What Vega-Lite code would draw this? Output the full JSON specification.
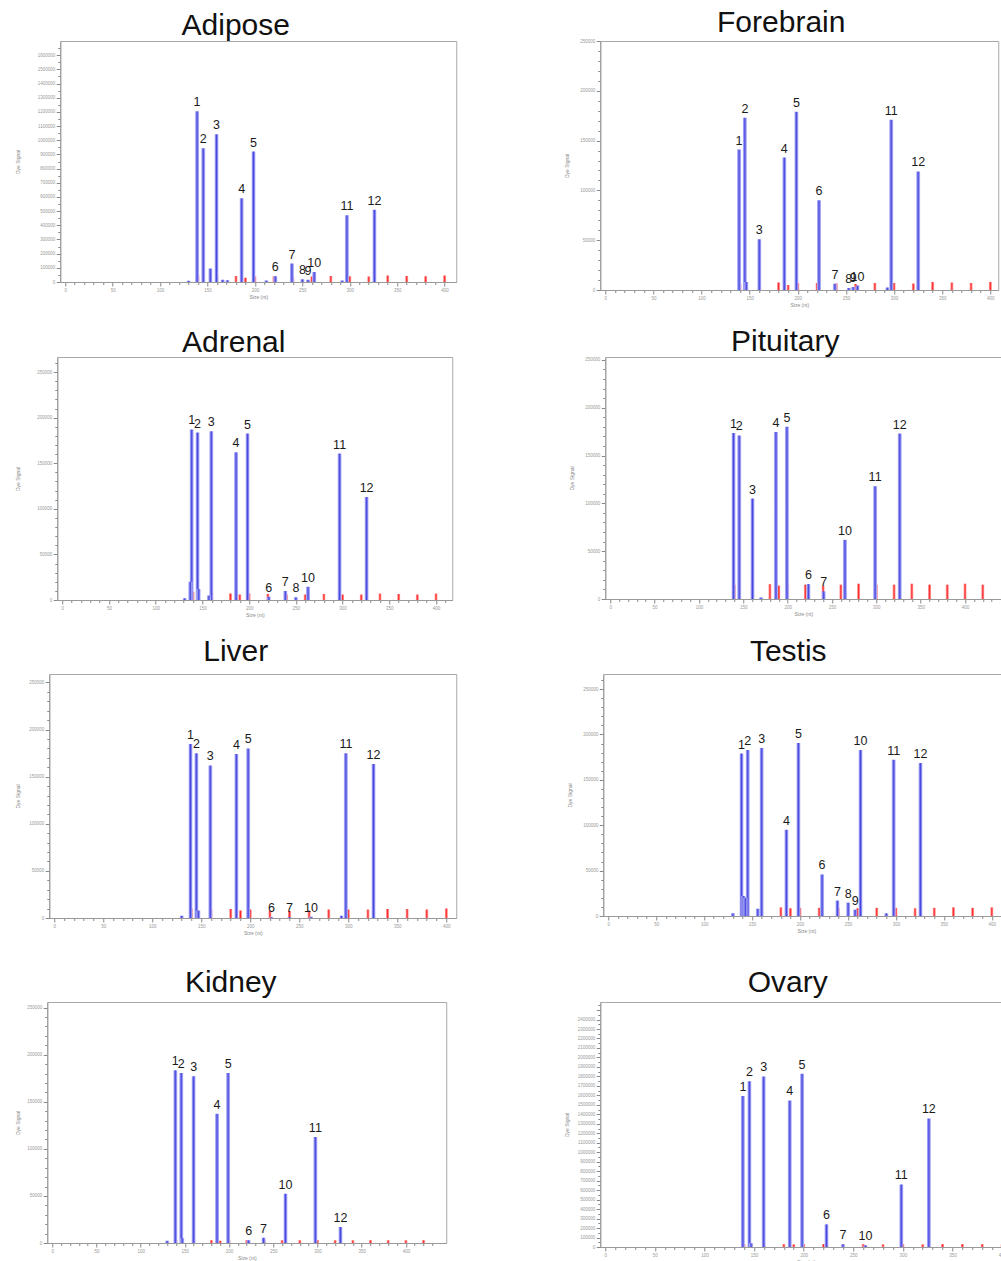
{
  "$schema": "https://vega.github.io/schema/vega-lite/v6.json",
  "padding": {"left": 14, "top": 7, "right": 0, "bottom": 0},
  "background": "white",
  "columns": 1,
  "center": true,
  "spacing": 18,
  "config": {
    "font": "Liberation Sans",
    "view": {"stroke": "#a8a8a8", "strokeWidth": 1},
    "title": {"fontSize": 30, "fontWeight": "normal", "font": "Liberation Sans", "color": "#111111", "anchor": "middle", "frame": "bounds"},
    "axis": {"labelFontSize": 4.5, "labelColor": "#999999", "titleFontSize": 5, "titleFontWeight": "normal", "titleColor": "#888888", "domainColor": "#999999", "tickColor": "#888888", "grid": false, "labelOverlap": false, "labelFlush": false, "titlePadding": 3, "labelPadding": 1.5},
    "axisX": {"titlePadding": 1}
  },
  "datasets": {
    "peaks": [
      {"t": "Adipose", "x": 139, "h": 1205000, "lbl": "1"},
      {"t": "Adipose", "x": 145.5, "h": 944000, "lbl": "2"},
      {"t": "Adipose", "x": 159.5, "h": 1043000, "lbl": "3"},
      {"t": "Adipose", "x": 186, "h": 590000, "lbl": "4"},
      {"t": "Adipose", "x": 198.5, "h": 920000, "lbl": "5"},
      {"t": "Adipose", "x": 221.5, "h": 40000, "lbl": "6"},
      {"t": "Adipose", "x": 239, "h": 130000, "lbl": "7"},
      {"t": "Adipose", "x": 250, "h": 20000, "lbl": "8"},
      {"t": "Adipose", "x": 256, "h": 15000, "lbl": "9"},
      {"t": "Adipose", "x": 262.5, "h": 70000, "lbl": "10"},
      {"t": "Adipose", "x": 297, "h": 470000, "lbl": "11"},
      {"t": "Adipose", "x": 326, "h": 510000, "lbl": "12"},
      {"t": "Adipose", "x": 130, "h": 8000, "lbl": ""},
      {"t": "Adipose", "x": 153, "h": 95000, "lbl": ""},
      {"t": "Adipose", "x": 166, "h": 15000, "lbl": ""},
      {"t": "Adipose", "x": 171, "h": 12000, "lbl": ""},
      {"t": "Adipose", "x": 212, "h": 10000, "lbl": ""},
      {"t": "Adipose", "x": 292, "h": 10000, "lbl": ""},
      {"t": "Forebrain", "x": 139, "h": 141000, "lbl": "1"},
      {"t": "Forebrain", "x": 145, "h": 173000, "lbl": "2"},
      {"t": "Forebrain", "x": 160, "h": 51000, "lbl": "3"},
      {"t": "Forebrain", "x": 186, "h": 133000, "lbl": "4"},
      {"t": "Forebrain", "x": 198.5, "h": 179000, "lbl": "5"},
      {"t": "Forebrain", "x": 222, "h": 90000, "lbl": "6"},
      {"t": "Forebrain", "x": 238.5, "h": 6300, "lbl": "7"},
      {"t": "Forebrain", "x": 253, "h": 2000, "lbl": "8"},
      {"t": "Forebrain", "x": 257.5, "h": 3000, "lbl": "9"},
      {"t": "Forebrain", "x": 262, "h": 4500, "lbl": "10"},
      {"t": "Forebrain", "x": 297, "h": 171000, "lbl": "11"},
      {"t": "Forebrain", "x": 325, "h": 119000, "lbl": "12"},
      {"t": "Forebrain", "x": 146.5, "h": 8000, "lbl": ""},
      {"t": "Forebrain", "x": 293, "h": 2500, "lbl": ""},
      {"t": "Adrenal", "x": 138.5, "h": 187000, "lbl": "1"},
      {"t": "Adrenal", "x": 144.8, "h": 183600, "lbl": "2"},
      {"t": "Adrenal", "x": 159.5, "h": 185000, "lbl": "3"},
      {"t": "Adrenal", "x": 186, "h": 162000, "lbl": "4"},
      {"t": "Adrenal", "x": 198.3, "h": 182500, "lbl": "5"},
      {"t": "Adrenal", "x": 221, "h": 3600, "lbl": "6"},
      {"t": "Adrenal", "x": 238.7, "h": 10000, "lbl": "7"},
      {"t": "Adrenal", "x": 250, "h": 3000, "lbl": "8"},
      {"t": "Adrenal", "x": 263, "h": 14600, "lbl": "10"},
      {"t": "Adrenal", "x": 296.8, "h": 160600, "lbl": "11"},
      {"t": "Adrenal", "x": 325.7, "h": 113000, "lbl": "12"},
      {"t": "Adrenal", "x": 131, "h": 2000, "lbl": ""},
      {"t": "Adrenal", "x": 137, "h": 20000, "lbl": ""},
      {"t": "Adrenal", "x": 146, "h": 12000, "lbl": ""},
      {"t": "Adrenal", "x": 157, "h": 5000, "lbl": ""},
      {"t": "Pituitary", "x": 139, "h": 173600, "lbl": "1"},
      {"t": "Pituitary", "x": 145.4, "h": 171000, "lbl": "2"},
      {"t": "Pituitary", "x": 160.4, "h": 105000, "lbl": "3"},
      {"t": "Pituitary", "x": 186.8, "h": 174600, "lbl": "4"},
      {"t": "Pituitary", "x": 199.2, "h": 180000, "lbl": "5"},
      {"t": "Pituitary", "x": 223.4, "h": 15600, "lbl": "6"},
      {"t": "Pituitary", "x": 240.6, "h": 8000, "lbl": "7"},
      {"t": "Pituitary", "x": 264.6, "h": 61800, "lbl": "10"},
      {"t": "Pituitary", "x": 298.6, "h": 118000, "lbl": "11"},
      {"t": "Pituitary", "x": 326.4, "h": 173000, "lbl": "12"},
      {"t": "Pituitary", "x": 170, "h": 1500, "lbl": ""},
      {"t": "Liver", "x": 139, "h": 184700, "lbl": "1"},
      {"t": "Liver", "x": 145, "h": 175000, "lbl": "2"},
      {"t": "Liver", "x": 159.2, "h": 162000, "lbl": "3"},
      {"t": "Liver", "x": 185.8, "h": 174000, "lbl": "4"},
      {"t": "Liver", "x": 197.8, "h": 180000, "lbl": "5"},
      {"t": "Liver", "x": 221.7, "h": 800, "lbl": "6"},
      {"t": "Liver", "x": 240, "h": 800, "lbl": "7"},
      {"t": "Liver", "x": 262, "h": 1200, "lbl": "10"},
      {"t": "Liver", "x": 297.5, "h": 175000, "lbl": "11"},
      {"t": "Liver", "x": 325.7, "h": 163500, "lbl": "12"},
      {"t": "Liver", "x": 130, "h": 2500, "lbl": ""},
      {"t": "Liver", "x": 147, "h": 8000, "lbl": ""},
      {"t": "Liver", "x": 293, "h": 2500, "lbl": ""},
      {"t": "Testis", "x": 139, "h": 179000, "lbl": "1"},
      {"t": "Testis", "x": 145.5, "h": 183000, "lbl": "2"},
      {"t": "Testis", "x": 160, "h": 185000, "lbl": "3"},
      {"t": "Testis", "x": 185.8, "h": 95000, "lbl": "4"},
      {"t": "Testis", "x": 198.3, "h": 190600, "lbl": "5"},
      {"t": "Testis", "x": 223, "h": 45800, "lbl": "6"},
      {"t": "Testis", "x": 239, "h": 17000, "lbl": "7"},
      {"t": "Testis", "x": 250.2, "h": 14700, "lbl": "8"},
      {"t": "Testis", "x": 257.5, "h": 7000, "lbl": "9"},
      {"t": "Testis", "x": 263.1, "h": 183000, "lbl": "10"},
      {"t": "Testis", "x": 297.7, "h": 172000, "lbl": "11"},
      {"t": "Testis", "x": 325.6, "h": 168600, "lbl": "12"},
      {"t": "Testis", "x": 130, "h": 3000, "lbl": ""},
      {"t": "Testis", "x": 141, "h": 22000, "lbl": ""},
      {"t": "Testis", "x": 143, "h": 20000, "lbl": ""},
      {"t": "Testis", "x": 156, "h": 8000, "lbl": ""},
      {"t": "Testis", "x": 290, "h": 3000, "lbl": ""},
      {"t": "Kidney", "x": 139.2, "h": 183500, "lbl": "1"},
      {"t": "Kidney", "x": 145.9, "h": 180600, "lbl": "2"},
      {"t": "Kidney", "x": 159.9, "h": 177000, "lbl": "3"},
      {"t": "Kidney", "x": 186.4, "h": 137400, "lbl": "4"},
      {"t": "Kidney", "x": 198.9, "h": 180600, "lbl": "5"},
      {"t": "Kidney", "x": 222.1, "h": 2800, "lbl": "6"},
      {"t": "Kidney", "x": 239, "h": 5700, "lbl": "7"},
      {"t": "Kidney", "x": 263.8, "h": 52400, "lbl": "10"},
      {"t": "Kidney", "x": 297.6, "h": 112600, "lbl": "11"},
      {"t": "Kidney", "x": 326, "h": 17000, "lbl": "12"},
      {"t": "Kidney", "x": 130, "h": 2500, "lbl": ""},
      {"t": "Kidney", "x": 147, "h": 5000, "lbl": ""},
      {"t": "Ovary", "x": 138.7, "h": 1592000, "lbl": "1"},
      {"t": "Ovary", "x": 145.3, "h": 1750000, "lbl": "2"},
      {"t": "Ovary", "x": 159.7, "h": 1800000, "lbl": "3"},
      {"t": "Ovary", "x": 186, "h": 1546000, "lbl": "4"},
      {"t": "Ovary", "x": 198.4, "h": 1827000, "lbl": "5"},
      {"t": "Ovary", "x": 223, "h": 239000, "lbl": "6"},
      {"t": "Ovary", "x": 239.6, "h": 28000, "lbl": "7"},
      {"t": "Ovary", "x": 262.3, "h": 18000, "lbl": "10"},
      {"t": "Ovary", "x": 298.4, "h": 660000, "lbl": "11"},
      {"t": "Ovary", "x": 326.2, "h": 1356000, "lbl": "12"},
      {"t": "Ovary", "x": 147, "h": 40000, "lbl": ""}
    ],
    "ladder": [
      {"t": "Adipose", "x": 140, "h": 45000}, {"t": "Adipose", "x": 160, "h": 40000}, {"t": "Adipose", "x": 180, "h": 42000}, {"t": "Adipose", "x": 190, "h": 30000}, {"t": "Adipose", "x": 200, "h": 38000}, {"t": "Adipose", "x": 220, "h": 40000}, {"t": "Adipose", "x": 240, "h": 35000}, {"t": "Adipose", "x": 260, "h": 38000}, {"t": "Adipose", "x": 280, "h": 42000}, {"t": "Adipose", "x": 300, "h": 40000}, {"t": "Adipose", "x": 320, "h": 38000}, {"t": "Adipose", "x": 340, "h": 45000}, {"t": "Adipose", "x": 360, "h": 42000}, {"t": "Adipose", "x": 380, "h": 40000}, {"t": "Adipose", "x": 400, "h": 45000},
      {"t": "Forebrain", "x": 140, "h": 6000}, {"t": "Forebrain", "x": 160, "h": 7000}, {"t": "Forebrain", "x": 180, "h": 7500}, {"t": "Forebrain", "x": 190, "h": 5000}, {"t": "Forebrain", "x": 200, "h": 7000}, {"t": "Forebrain", "x": 220, "h": 7000}, {"t": "Forebrain", "x": 240, "h": 6500}, {"t": "Forebrain", "x": 260, "h": 6000}, {"t": "Forebrain", "x": 280, "h": 7000}, {"t": "Forebrain", "x": 300, "h": 7000}, {"t": "Forebrain", "x": 320, "h": 6500}, {"t": "Forebrain", "x": 340, "h": 8000}, {"t": "Forebrain", "x": 360, "h": 7500}, {"t": "Forebrain", "x": 380, "h": 7000}, {"t": "Forebrain", "x": 400, "h": 8000},
      {"t": "Adrenal", "x": 140, "h": 9000}, {"t": "Adrenal", "x": 160, "h": 8000}, {"t": "Adrenal", "x": 180, "h": 7000}, {"t": "Adrenal", "x": 190, "h": 6000}, {"t": "Adrenal", "x": 200, "h": 7000}, {"t": "Adrenal", "x": 220, "h": 6500}, {"t": "Adrenal", "x": 240, "h": 6000}, {"t": "Adrenal", "x": 260, "h": 6000}, {"t": "Adrenal", "x": 280, "h": 6500}, {"t": "Adrenal", "x": 300, "h": 6000}, {"t": "Adrenal", "x": 320, "h": 6000}, {"t": "Adrenal", "x": 340, "h": 7000}, {"t": "Adrenal", "x": 360, "h": 6500}, {"t": "Adrenal", "x": 380, "h": 6000}, {"t": "Adrenal", "x": 400, "h": 7000},
      {"t": "Pituitary", "x": 140, "h": 15000}, {"t": "Pituitary", "x": 160, "h": 16000}, {"t": "Pituitary", "x": 180, "h": 15500}, {"t": "Pituitary", "x": 190, "h": 14000}, {"t": "Pituitary", "x": 200, "h": 16000}, {"t": "Pituitary", "x": 220, "h": 15000}, {"t": "Pituitary", "x": 240, "h": 14000}, {"t": "Pituitary", "x": 260, "h": 15000}, {"t": "Pituitary", "x": 280, "h": 16000}, {"t": "Pituitary", "x": 300, "h": 15000}, {"t": "Pituitary", "x": 320, "h": 15000}, {"t": "Pituitary", "x": 340, "h": 16000}, {"t": "Pituitary", "x": 360, "h": 15000}, {"t": "Pituitary", "x": 380, "h": 15000}, {"t": "Pituitary", "x": 400, "h": 16000}, {"t": "Pituitary", "x": 420, "h": 15000},
      {"t": "Liver", "x": 140, "h": 10000}, {"t": "Liver", "x": 160, "h": 9000}, {"t": "Liver", "x": 180, "h": 9500}, {"t": "Liver", "x": 190, "h": 8000}, {"t": "Liver", "x": 200, "h": 9000}, {"t": "Liver", "x": 220, "h": 8000}, {"t": "Liver", "x": 240, "h": 7500}, {"t": "Liver", "x": 260, "h": 8000}, {"t": "Liver", "x": 280, "h": 9000}, {"t": "Liver", "x": 300, "h": 9000}, {"t": "Liver", "x": 320, "h": 9000}, {"t": "Liver", "x": 340, "h": 9500}, {"t": "Liver", "x": 360, "h": 9500}, {"t": "Liver", "x": 380, "h": 9000}, {"t": "Liver", "x": 400, "h": 10000},
      {"t": "Testis", "x": 140, "h": 9000}, {"t": "Testis", "x": 160, "h": 9500}, {"t": "Testis", "x": 180, "h": 9500}, {"t": "Testis", "x": 190, "h": 8500}, {"t": "Testis", "x": 200, "h": 9000}, {"t": "Testis", "x": 220, "h": 9000}, {"t": "Testis", "x": 240, "h": 9000}, {"t": "Testis", "x": 260, "h": 8500}, {"t": "Testis", "x": 280, "h": 9000}, {"t": "Testis", "x": 300, "h": 9000}, {"t": "Testis", "x": 320, "h": 8500}, {"t": "Testis", "x": 340, "h": 9000}, {"t": "Testis", "x": 360, "h": 9500}, {"t": "Testis", "x": 380, "h": 9000}, {"t": "Testis", "x": 400, "h": 9500},
      {"t": "Kidney", "x": 140, "h": 3500}, {"t": "Kidney", "x": 160, "h": 3000}, {"t": "Kidney", "x": 180, "h": 3000}, {"t": "Kidney", "x": 190, "h": 2500}, {"t": "Kidney", "x": 200, "h": 3500}, {"t": "Kidney", "x": 220, "h": 3000}, {"t": "Kidney", "x": 240, "h": 3000}, {"t": "Kidney", "x": 260, "h": 3000}, {"t": "Kidney", "x": 280, "h": 3000}, {"t": "Kidney", "x": 300, "h": 3000}, {"t": "Kidney", "x": 320, "h": 3000}, {"t": "Kidney", "x": 340, "h": 3000}, {"t": "Kidney", "x": 360, "h": 3000}, {"t": "Kidney", "x": 380, "h": 3000}, {"t": "Kidney", "x": 400, "h": 3000}, {"t": "Kidney", "x": 420, "h": 3000},
      {"t": "Ovary", "x": 140, "h": 30000}, {"t": "Ovary", "x": 160, "h": 32000}, {"t": "Ovary", "x": 180, "h": 30000}, {"t": "Ovary", "x": 190, "h": 28000}, {"t": "Ovary", "x": 200, "h": 30000}, {"t": "Ovary", "x": 220, "h": 30000}, {"t": "Ovary", "x": 240, "h": 28000}, {"t": "Ovary", "x": 260, "h": 30000}, {"t": "Ovary", "x": 280, "h": 28000}, {"t": "Ovary", "x": 300, "h": 30000}, {"t": "Ovary", "x": 320, "h": 28000}, {"t": "Ovary", "x": 340, "h": 30000}, {"t": "Ovary", "x": 360, "h": 30000}, {"t": "Ovary", "x": 380, "h": 30000}, {"t": "Ovary", "x": 400, "h": 30000}
    ]
  },
  "concat": [
    {
      "spacing": 106,
      "hconcat": [
        {
          "width": 396, "height": 241,
          "title": {"text": "Adipose", "offset": 0},
          "encoding": {
            "x": {"field": "x", "type": "quantitative", "scale": {"domain": [0, 407], "nice": false, "zero": false},
              "axis": {"title": "Size (nt)", "values": [0,10,20,30,40,50,60,70,80,90,100,110,120,130,140,150,160,170,180,190,200,210,220,230,240,250,260,270,280,290,300,310,320,330,340,350,360,370,380,390,400], "labelExpr": "datum.value % 50 === 0 ? datum.label : ''", "tickSize": {"condition": {"test": "datum.value % 50 === 0", "value": 4}, "value": 2.5}, "minExtent": 11, "maxExtent": 11}},
            "y": {"field": "h", "type": "quantitative", "scale": {"domain": [0, 1700000], "nice": false},
              "axis": {"title": "Dye Signal", "format": "d", "values": [0,50000,100000,150000,200000,250000,300000,350000,400000,450000,500000,550000,600000,650000,700000,750000,800000,850000,900000,950000,1000000,1050000,1100000,1150000,1200000,1250000,1300000,1350000,1400000,1450000,1500000,1550000,1600000,1650000], "labelExpr": "datum.value % 100000 === 0 ? datum.label : ''", "tickSize": {"condition": {"test": "datum.value % 100000 === 0", "value": 4}, "value": 2.5}, "minExtent": 37, "maxExtent": 37}}
          },
          "layer": [
            {"data": {"name": "ladder"}, "transform": [{"filter": "datum.t === 'Adipose'"}], "mark": {"type": "bar", "orient": "vertical", "width": 3, "clip": true, "fill": {"gradient": "linear", "x1": 0, "y1": 0, "x2": 1, "y2": 0, "stops": [{"offset": 0, "color": "#ffb4b4"}, {"offset": 0.5, "color": "#ff2a2a"}, {"offset": 1, "color": "#ffb4b4"}]}}},
            {"data": {"name": "peaks"}, "transform": [{"filter": "datum.t === 'Adipose'"}], "mark": {"type": "bar", "orient": "vertical", "width": 4, "clip": true, "fill": {"gradient": "linear", "x1": 0, "y1": 0, "x2": 1, "y2": 0, "stops": [{"offset": 0, "color": "#c8c8fb"}, {"offset": 0.5, "color": "#4646e0"}, {"offset": 1, "color": "#c8c8fb"}]}}},
            {"data": {"name": "peaks"}, "transform": [{"filter": "datum.t === 'Adipose' && datum.lbl !== ''"}], "mark": {"type": "text", "baseline": "bottom", "dy": -2, "fontSize": 12.5, "font": "Liberation Sans", "color": "#1a1a1a"}, "encoding": {"text": {"field": "lbl"}}}
          ]
        },
        {
          "width": 398, "height": 249,
          "title": {"text": "Forebrain", "offset": 0},
          "encoding": {
            "x": {"field": "x", "type": "quantitative", "scale": {"domain": [0, 403], "nice": false, "zero": false},
              "axis": {"title": "Size (nt)", "values": [0,10,20,30,40,50,60,70,80,90,100,110,120,130,140,150,160,170,180,190,200,210,220,230,240,250,260,270,280,290,300,310,320,330,340,350,360,370,380,390,400], "labelExpr": "datum.value % 50 === 0 ? datum.label : ''", "tickSize": {"condition": {"test": "datum.value % 50 === 0", "value": 4}, "value": 2.5}, "minExtent": 11, "maxExtent": 11}},
            "y": {"field": "h", "type": "quantitative", "scale": {"domain": [0, 250000], "nice": false},
              "axis": {"title": "Dye Signal", "format": "d", "values": [0,10000,20000,30000,40000,50000,60000,70000,80000,90000,100000,110000,120000,130000,140000,150000,160000,170000,180000,190000,200000,210000,220000,230000,240000,250000], "labelExpr": "datum.value % 50000 === 0 ? datum.label : ''", "tickSize": {"condition": {"test": "datum.value % 50000 === 0", "value": 4}, "value": 2.5}, "minExtent": 28, "maxExtent": 28}}
          },
          "layer": [
            {"data": {"name": "ladder"}, "transform": [{"filter": "datum.t === 'Forebrain'"}], "mark": {"type": "bar", "orient": "vertical", "width": 3, "clip": true, "fill": {"gradient": "linear", "x1": 0, "y1": 0, "x2": 1, "y2": 0, "stops": [{"offset": 0, "color": "#ffb4b4"}, {"offset": 0.5, "color": "#ff2a2a"}, {"offset": 1, "color": "#ffb4b4"}]}}},
            {"data": {"name": "peaks"}, "transform": [{"filter": "datum.t === 'Forebrain'"}], "mark": {"type": "bar", "orient": "vertical", "width": 4, "clip": true, "fill": {"gradient": "linear", "x1": 0, "y1": 0, "x2": 1, "y2": 0, "stops": [{"offset": 0, "color": "#c8c8fb"}, {"offset": 0.5, "color": "#4646e0"}, {"offset": 1, "color": "#c8c8fb"}]}}},
            {"data": {"name": "peaks"}, "transform": [{"filter": "datum.t === 'Forebrain' && datum.lbl !== ''"}], "mark": {"type": "text", "baseline": "bottom", "dy": -2, "fontSize": 12.5, "font": "Liberation Sans", "color": "#1a1a1a"}, "encoding": {"text": {"field": "lbl"}}}
          ]
        }
      ]
    },
    {
      "spacing": 115,
      "hconcat": [
        {
          "width": 395, "height": 243,
          "title": {"text": "Adrenal", "offset": -0.5},
          "encoding": {
            "x": {"field": "x", "type": "quantitative", "scale": {"domain": [0, 412], "nice": false, "zero": false},
              "axis": {"title": "Size (nt)", "values": [0,10,20,30,40,50,60,70,80,90,100,110,120,130,140,150,160,170,180,190,200,210,220,230,240,250,260,270,280,290,300,310,320,330,340,350,360,370,380,390,400,410], "labelExpr": "datum.value % 50 === 0 ? datum.label : ''", "tickSize": {"condition": {"test": "datum.value % 50 === 0", "value": 4}, "value": 2.5}, "minExtent": 11, "maxExtent": 11}},
            "y": {"field": "h", "type": "quantitative", "scale": {"domain": [0, 266500], "nice": false},
              "axis": {"title": "Dye Signal", "format": "d", "values": [0,10000,20000,30000,40000,50000,60000,70000,80000,90000,100000,110000,120000,130000,140000,150000,160000,170000,180000,190000,200000,210000,220000,230000,240000,250000,260000], "labelExpr": "datum.value % 50000 === 0 ? datum.label : ''", "tickSize": {"condition": {"test": "datum.value % 50000 === 0", "value": 4}, "value": 2.5}, "minExtent": 34, "maxExtent": 34}}
          },
          "layer": [
            {"data": {"name": "ladder"}, "transform": [{"filter": "datum.t === 'Adrenal'"}], "mark": {"type": "bar", "orient": "vertical", "width": 3, "clip": true, "fill": {"gradient": "linear", "x1": 0, "y1": 0, "x2": 1, "y2": 0, "stops": [{"offset": 0, "color": "#ffb4b4"}, {"offset": 0.5, "color": "#ff2a2a"}, {"offset": 1, "color": "#ffb4b4"}]}}},
            {"data": {"name": "peaks"}, "transform": [{"filter": "datum.t === 'Adrenal'"}], "mark": {"type": "bar", "orient": "vertical", "width": 4, "clip": true, "fill": {"gradient": "linear", "x1": 0, "y1": 0, "x2": 1, "y2": 0, "stops": [{"offset": 0, "color": "#c8c8fb"}, {"offset": 0.5, "color": "#4646e0"}, {"offset": 1, "color": "#c8c8fb"}]}}},
            {"data": {"name": "peaks"}, "transform": [{"filter": "datum.t === 'Adrenal' && datum.lbl !== ''"}], "mark": {"type": "text", "baseline": "bottom", "dy": -2, "fontSize": 12.5, "font": "Liberation Sans", "color": "#1a1a1a"}, "encoding": {"text": {"field": "lbl"}}}
          ]
        },
        {
          "width": 396, "height": 242,
          "title": {"text": "Pituitary", "offset": -0.5},
          "encoding": {
            "x": {"field": "x", "type": "quantitative", "scale": {"domain": [0, 435.2], "nice": false, "zero": false},
              "axis": {"title": "Size (nt)", "values": [0,10,20,30,40,50,60,70,80,90,100,110,120,130,140,150,160,170,180,190,200,210,220,230,240,250,260,270,280,290,300,310,320,330,340,350,360,370,380,390,400,410,420,430], "labelExpr": "datum.value % 50 === 0 ? datum.label : ''", "tickSize": {"condition": {"test": "datum.value % 50 === 0", "value": 4}, "value": 2.5}, "minExtent": 11, "maxExtent": 11}},
            "y": {"field": "h", "type": "quantitative", "scale": {"domain": [0, 253000], "nice": false},
              "axis": {"title": "Dye Signal", "format": "d", "values": [0,10000,20000,30000,40000,50000,60000,70000,80000,90000,100000,110000,120000,130000,140000,150000,160000,170000,180000,190000,200000,210000,220000,230000,240000,250000], "labelExpr": "datum.value % 50000 === 0 ? datum.label : ''", "tickSize": {"condition": {"test": "datum.value % 50000 === 0", "value": 4}, "value": 2.5}, "minExtent": 28, "maxExtent": 28}}
          },
          "layer": [
            {"data": {"name": "ladder"}, "transform": [{"filter": "datum.t === 'Pituitary'"}], "mark": {"type": "bar", "orient": "vertical", "width": 3, "clip": true, "fill": {"gradient": "linear", "x1": 0, "y1": 0, "x2": 1, "y2": 0, "stops": [{"offset": 0, "color": "#ffb4b4"}, {"offset": 0.5, "color": "#ff2a2a"}, {"offset": 1, "color": "#ffb4b4"}]}}},
            {"data": {"name": "peaks"}, "transform": [{"filter": "datum.t === 'Pituitary'"}], "mark": {"type": "bar", "orient": "vertical", "width": 4, "clip": true, "fill": {"gradient": "linear", "x1": 0, "y1": 0, "x2": 1, "y2": 0, "stops": [{"offset": 0, "color": "#c8c8fb"}, {"offset": 0.5, "color": "#4646e0"}, {"offset": 1, "color": "#c8c8fb"}]}}},
            {"data": {"name": "peaks"}, "transform": [{"filter": "datum.t === 'Pituitary' && datum.lbl !== ''"}], "mark": {"type": "text", "baseline": "bottom", "dy": -2, "fontSize": 12.5, "font": "Liberation Sans", "color": "#1a1a1a"}, "encoding": {"text": {"field": "lbl"}}}
          ]
        }
      ]
    },
    {
      "spacing": 109,
      "hconcat": [
        {
          "width": 407, "height": 244,
          "title": {"text": "Liver", "offset": 7},
          "encoding": {
            "x": {"field": "x", "type": "quantitative", "scale": {"domain": [0, 405], "nice": false, "zero": false},
              "axis": {"title": "Size (nt)", "values": [0,10,20,30,40,50,60,70,80,90,100,110,120,130,140,150,160,170,180,190,200,210,220,230,240,250,260,270,280,290,300,310,320,330,340,350,360,370,380,390,400], "labelExpr": "datum.value % 50 === 0 ? datum.label : ''", "tickSize": {"condition": {"test": "datum.value % 50 === 0", "value": 4}, "value": 2.5}, "minExtent": 11, "maxExtent": 11}},
            "y": {"field": "h", "type": "quantitative", "scale": {"domain": [0, 259000], "nice": false},
              "axis": {"title": "Dye Signal", "format": "d", "values": [0,10000,20000,30000,40000,50000,60000,70000,80000,90000,100000,110000,120000,130000,140000,150000,160000,170000,180000,190000,200000,210000,220000,230000,240000,250000], "labelExpr": "datum.value % 50000 === 0 ? datum.label : ''", "tickSize": {"condition": {"test": "datum.value % 50000 === 0", "value": 4}, "value": 2.5}, "minExtent": 26, "maxExtent": 26}}
          },
          "layer": [
            {"data": {"name": "ladder"}, "transform": [{"filter": "datum.t === 'Liver'"}], "mark": {"type": "bar", "orient": "vertical", "width": 3, "clip": true, "fill": {"gradient": "linear", "x1": 0, "y1": 0, "x2": 1, "y2": 0, "stops": [{"offset": 0, "color": "#ffb4b4"}, {"offset": 0.5, "color": "#ff2a2a"}, {"offset": 1, "color": "#ffb4b4"}]}}},
            {"data": {"name": "peaks"}, "transform": [{"filter": "datum.t === 'Liver'"}], "mark": {"type": "bar", "orient": "vertical", "width": 4, "clip": true, "fill": {"gradient": "linear", "x1": 0, "y1": 0, "x2": 1, "y2": 0, "stops": [{"offset": 0, "color": "#c8c8fb"}, {"offset": 0.5, "color": "#4646e0"}, {"offset": 1, "color": "#c8c8fb"}]}}},
            {"data": {"name": "peaks"}, "transform": [{"filter": "datum.t === 'Liver' && datum.lbl !== ''"}], "mark": {"type": "text", "baseline": "bottom", "dy": -2, "fontSize": 12.5, "font": "Liberation Sans", "color": "#1a1a1a"}, "encoding": {"text": {"field": "lbl"}}}
          ]
        },
        {
          "width": 406, "height": 242,
          "title": {"text": "Testis", "offset": 7},
          "encoding": {
            "x": {"field": "x", "type": "quantitative", "scale": {"domain": [0, 413], "nice": false, "zero": false},
              "axis": {"title": "Size (nt)", "values": [0,10,20,30,40,50,60,70,80,90,100,110,120,130,140,150,160,170,180,190,200,210,220,230,240,250,260,270,280,290,300,310,320,330,340,350,360,370,380,390,400,410], "labelExpr": "datum.value % 50 === 0 ? datum.label : ''", "tickSize": {"condition": {"test": "datum.value % 50 === 0", "value": 4}, "value": 2.5}, "minExtent": 11, "maxExtent": 11}},
            "y": {"field": "h", "type": "quantitative", "scale": {"domain": [0, 266600], "nice": false},
              "axis": {"title": "Dye Signal", "format": "d", "values": [0,10000,20000,30000,40000,50000,60000,70000,80000,90000,100000,110000,120000,130000,140000,150000,160000,170000,180000,190000,200000,210000,220000,230000,240000,250000,260000], "labelExpr": "datum.value % 50000 === 0 ? datum.label : ''", "tickSize": {"condition": {"test": "datum.value % 50000 === 0", "value": 4}, "value": 2.5}, "minExtent": 28, "maxExtent": 28}}
          },
          "layer": [
            {"data": {"name": "ladder"}, "transform": [{"filter": "datum.t === 'Testis'"}], "mark": {"type": "bar", "orient": "vertical", "width": 3, "clip": true, "fill": {"gradient": "linear", "x1": 0, "y1": 0, "x2": 1, "y2": 0, "stops": [{"offset": 0, "color": "#ffb4b4"}, {"offset": 0.5, "color": "#ff2a2a"}, {"offset": 1, "color": "#ffb4b4"}]}}},
            {"data": {"name": "peaks"}, "transform": [{"filter": "datum.t === 'Testis'"}], "mark": {"type": "bar", "orient": "vertical", "width": 4, "clip": true, "fill": {"gradient": "linear", "x1": 0, "y1": 0, "x2": 1, "y2": 0, "stops": [{"offset": 0, "color": "#c8c8fb"}, {"offset": 0.5, "color": "#4646e0"}, {"offset": 1, "color": "#c8c8fb"}]}}},
            {"data": {"name": "peaks"}, "transform": [{"filter": "datum.t === 'Testis' && datum.lbl !== ''"}], "mark": {"type": "text", "baseline": "bottom", "dy": -2, "fontSize": 12.5, "font": "Liberation Sans", "color": "#1a1a1a"}, "encoding": {"text": {"field": "lbl"}}}
          ]
        }
      ]
    },
    {
      "spacing": 116,
      "hconcat": [
        {
          "width": 399, "height": 241,
          "title": {"text": ["", "Kidney"], "lineHeight": 13, "offset": 4},
          "encoding": {
            "x": {"field": "x", "type": "quantitative", "scale": {"domain": [0, 440], "nice": false, "zero": false},
              "axis": {"title": "Size (nt)", "values": [0,10,20,30,40,50,60,70,80,90,100,110,120,130,140,150,160,170,180,190,200,210,220,230,240,250,260,270,280,290,300,310,320,330,340,350,360,370,380,390,400,410,420,430], "labelExpr": "datum.value % 50 === 0 ? datum.label : ''", "tickSize": {"condition": {"test": "datum.value % 50 === 0", "value": 4}, "value": 2.5}, "minExtent": 11, "maxExtent": 11}},
            "y": {"field": "h", "type": "quantitative", "scale": {"domain": [0, 256000], "nice": false},
              "axis": {"title": "Dye Signal", "format": "d", "values": [0,10000,20000,30000,40000,50000,60000,70000,80000,90000,100000,110000,120000,130000,140000,150000,160000,170000,180000,190000,200000,210000,220000,230000,240000,250000], "labelExpr": "datum.value % 50000 === 0 ? datum.label : ''", "tickSize": {"condition": {"test": "datum.value % 50000 === 0", "value": 4}, "value": 2.5}, "minExtent": 24, "maxExtent": 24}}
          },
          "layer": [
            {"data": {"name": "ladder"}, "transform": [{"filter": "datum.t === 'Kidney'"}], "mark": {"type": "bar", "orient": "vertical", "width": 3, "clip": true, "fill": {"gradient": "linear", "x1": 0, "y1": 0, "x2": 1, "y2": 0, "stops": [{"offset": 0, "color": "#ffb4b4"}, {"offset": 0.5, "color": "#ff2a2a"}, {"offset": 1, "color": "#ffb4b4"}]}}},
            {"data": {"name": "peaks"}, "transform": [{"filter": "datum.t === 'Kidney'"}], "mark": {"type": "bar", "orient": "vertical", "width": 4, "clip": true, "fill": {"gradient": "linear", "x1": 0, "y1": 0, "x2": 1, "y2": 0, "stops": [{"offset": 0, "color": "#c8c8fb"}, {"offset": 0.5, "color": "#4646e0"}, {"offset": 1, "color": "#c8c8fb"}]}}},
            {"data": {"name": "peaks"}, "transform": [{"filter": "datum.t === 'Kidney' && datum.lbl !== ''"}], "mark": {"type": "text", "baseline": "bottom", "dy": -2, "fontSize": 12.5, "font": "Liberation Sans", "color": "#1a1a1a"}, "encoding": {"text": {"field": "lbl"}}}
          ]
        },
        {
          "width": 411, "height": 245,
          "title": {"text": ["", "Ovary"], "lineHeight": 13, "offset": 4},
          "encoding": {
            "x": {"field": "x", "type": "quantitative", "scale": {"domain": [0, 404.2], "nice": false, "zero": false},
              "axis": {"title": "Size (nt)", "values": [0,10,20,30,40,50,60,70,80,90,100,110,120,130,140,150,160,170,180,190,200,210,220,230,240,250,260,270,280,290,300,310,320,330,340,350,360,370,380,390,400], "labelExpr": "datum.value % 50 === 0 ? datum.label : ''", "tickSize": {"condition": {"test": "datum.value % 50 === 0", "value": 4}, "value": 2.5}, "minExtent": 11, "maxExtent": 11}},
            "y": {"field": "h", "type": "quantitative", "scale": {"domain": [0, 2585000], "nice": false},
              "axis": {"title": "Dye Signal", "format": "d", "values": [0,50000,100000,150000,200000,250000,300000,350000,400000,450000,500000,550000,600000,650000,700000,750000,800000,850000,900000,950000,1000000,1050000,1100000,1150000,1200000,1250000,1300000,1350000,1400000,1450000,1500000,1550000,1600000,1650000,1700000,1750000,1800000,1850000,1900000,1950000,2000000,2050000,2100000,2150000,2200000,2250000,2300000,2350000,2400000,2450000,2500000,2550000], "labelExpr": "datum.value % 100000 === 0 && datum.value <= 2400000 ? datum.label : ''", "tickSize": {"condition": {"test": "datum.value % 100000 === 0", "value": 4}, "value": 2.5}, "minExtent": 28, "maxExtent": 28}}
          },
          "layer": [
            {"data": {"name": "ladder"}, "transform": [{"filter": "datum.t === 'Ovary'"}], "mark": {"type": "bar", "orient": "vertical", "width": 3, "clip": true, "fill": {"gradient": "linear", "x1": 0, "y1": 0, "x2": 1, "y2": 0, "stops": [{"offset": 0, "color": "#ffb4b4"}, {"offset": 0.5, "color": "#ff2a2a"}, {"offset": 1, "color": "#ffb4b4"}]}}},
            {"data": {"name": "peaks"}, "transform": [{"filter": "datum.t === 'Ovary'"}], "mark": {"type": "bar", "orient": "vertical", "width": 4, "clip": true, "fill": {"gradient": "linear", "x1": 0, "y1": 0, "x2": 1, "y2": 0, "stops": [{"offset": 0, "color": "#c8c8fb"}, {"offset": 0.5, "color": "#4646e0"}, {"offset": 1, "color": "#c8c8fb"}]}}},
            {"data": {"name": "peaks"}, "transform": [{"filter": "datum.t === 'Ovary' && datum.lbl !== ''"}], "mark": {"type": "text", "baseline": "bottom", "dy": -2, "fontSize": 12.5, "font": "Liberation Sans", "color": "#1a1a1a"}, "encoding": {"text": {"field": "lbl"}}}
          ]
        }
      ]
    }
  ]
}
